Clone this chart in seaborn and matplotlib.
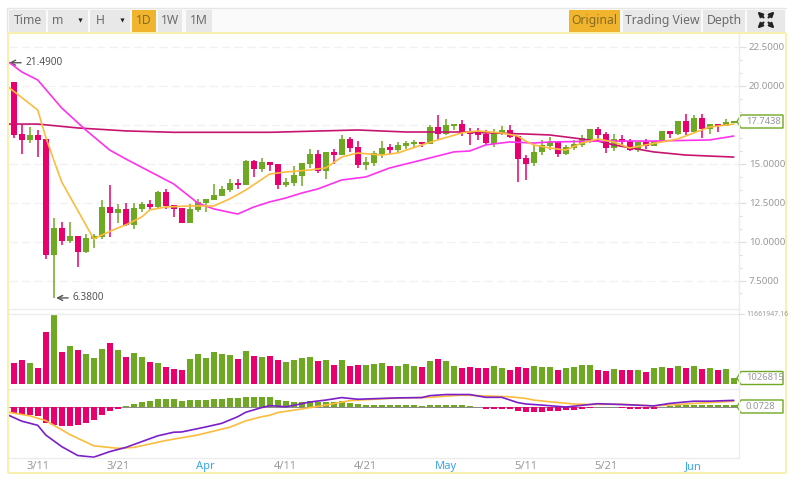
import matplotlib
matplotlib.use("Agg")
import matplotlib.pyplot as plt
from matplotlib.patches import Rectangle, Polygon
import pandas as pd
import seaborn as sns

W, H = 794, 478

# daily candles, day 0 = 3/7
opens = [21.34, 20.25, 16.91, 16.53, 16.85, 16.59, 9.14, 10.87, 10.04, 10.36,
         9.33, 10.17, 10.30, 12.22, 11.84, 12.10, 11.07, 12.10, 12.42, 12.22,
         13.19, 12.35, 12.16, 11.20, 12.03, 12.48, 12.67, 12.93, 13.31, 13.76,
         13.64, 15.18, 14.66, 15.11, 14.98, 13.64, 13.76, 14.21, 14.98, 15.63,
         14.53, 15.76, 15.56, 16.59, 16.08, 14.92, 15.05, 15.63, 16.08, 15.88,
         16.14, 16.27, 16.40, 16.27, 17.36, 16.91, 17.43, 17.55, 17.11, 17.04,
         16.91, 16.27, 16.91, 17.17, 16.78, 15.37, 15.05, 15.76, 16.14, 16.40,
         15.63, 16.01, 16.21, 16.59, 17.23, 16.91, 16.01, 16.59, 16.46, 15.88,
         16.40, 16.14, 16.40, 17.11, 16.91, 17.75, 17.04, 17.94, 17.23, 17.55,
         17.43, 17.62]
highs = [21.49, 20.25, 17.49, 17.36, 17.17, 16.59, 11.52, 11.26, 11.26, 10.36,
         10.49, 10.49, 12.67, 13.64, 12.42, 12.48, 12.48, 12.55, 12.67, 13.25,
         13.38, 12.35, 12.16, 12.42, 12.74, 12.74, 13.70, 13.57, 14.02, 14.02,
         15.24, 15.24, 15.37, 15.11, 14.98, 14.09, 14.86, 15.05, 15.95, 15.88,
         15.76, 15.95, 16.85, 16.72, 16.46, 15.43, 15.82, 16.46, 16.27, 16.40,
         16.46, 16.53, 16.40, 17.49, 18.13, 17.88, 17.55, 17.81, 17.30, 17.30,
         17.17, 17.23, 17.43, 17.49, 16.78, 15.56, 16.21, 16.53, 16.72, 16.40,
         16.21, 16.53, 16.85, 17.23, 17.36, 17.04, 16.91, 16.85, 16.59, 16.40,
         16.59, 16.46, 17.11, 17.11, 17.75, 18.20, 18.13, 18.20, 17.55, 17.55,
         17.88, 17.75]
lows = [20.25, 16.66, 15.63, 16.33, 15.43, 8.88, 6.38, 9.78, 9.91, 8.37,
        9.27, 9.59, 10.17, 10.30, 11.20, 11.00, 10.81, 11.90, 12.03, 12.16,
        12.10, 11.58, 11.20, 11.20, 11.90, 11.90, 12.67, 12.93, 13.19, 13.38,
        13.64, 14.15, 14.47, 14.53, 13.38, 13.51, 13.57, 13.57, 14.73, 14.41,
        14.02, 14.98, 15.56, 15.76, 14.73, 14.60, 14.86, 15.37, 15.63, 15.69,
        15.95, 16.01, 16.08, 16.27, 16.53, 16.85, 17.17, 16.78, 16.21, 16.53,
        16.21, 16.08, 16.85, 16.66, 13.83, 13.96, 14.86, 15.56, 15.88, 15.43,
        15.56, 15.88, 16.08, 16.33, 16.46, 15.69, 15.82, 16.21, 15.82, 15.76,
        15.95, 16.14, 16.40, 16.66, 16.85, 16.85, 17.04, 16.66, 16.91, 17.04,
        17.43, 17.62]
closes = [20.25, 16.85, 16.53, 16.85, 16.53, 9.14, 10.87, 10.04, 10.36, 9.33,
          10.23, 10.36, 12.22, 11.84, 12.10, 11.07, 12.16, 12.42, 12.22, 13.19,
          12.29, 12.10, 11.20, 12.10, 12.55, 12.74, 12.99, 13.38, 13.76, 13.64,
          15.18, 14.66, 15.11, 14.92, 13.64, 13.83, 14.28, 15.05, 15.63, 14.53,
          15.76, 15.56, 16.59, 16.01, 14.92, 15.11, 15.69, 16.01, 15.88, 16.21,
          16.33, 16.40, 16.27, 17.36, 16.91, 17.49, 17.55, 16.98, 16.91, 16.85,
          16.33, 16.98, 17.17, 16.72, 15.31, 14.98, 15.76, 16.21, 16.40, 15.63,
          16.08, 16.27, 16.66, 17.23, 16.85, 16.01, 16.59, 16.40, 15.88, 16.40,
          16.14, 16.46, 17.11, 16.91, 17.75, 17.04, 17.94, 17.23, 17.55, 17.43,
          17.68, 17.7438]

# moving averages, read at the days where the line bends
ma1_days = [0, 4, 5, 6, 7, 11, 12, 14, 15, 17, 18, 20, 23, 26, 28, 30, 33, 35, 38, 40,
            42, 44, 47, 49, 52, 54, 57, 59, 62, 64, 65, 66, 68, 70, 72, 74, 76, 78,
            80, 82, 84, 86, 88, 91]
ma1 = [20.06, 18.45, 16.72, 15.24, 13.83, 10.17, 10.42, 10.87, 11.07, 11.58, 12.03,
       12.22, 12.29, 12.29, 12.74, 13.31, 14.34, 14.47, 14.60, 14.73, 15.43, 15.69,
       15.56, 15.69, 16.21, 16.53, 16.98, 17.11, 16.98, 16.78, 16.46, 16.21, 16.01,
       15.88, 16.33, 16.59, 16.40, 16.01, 16.21, 16.40, 16.59, 16.98, 17.36, 17.55]
ma2_days = [0, 2, 4, 7, 10, 13, 15, 21, 24, 26, 29, 31, 33, 35, 37, 39, 42, 45, 48, 52,
            54, 56, 58, 60, 63, 66, 68, 75, 81, 88, 91]
ma2 = [21.67, 20.90, 20.38, 18.58, 17.17, 15.88, 15.31, 13.70, 12.48, 12.10, 11.77,
       12.22, 12.55, 12.80, 13.12, 13.38, 13.96, 14.15, 14.73, 15.24, 15.50, 15.76,
       15.82, 16.21, 16.40, 16.33, 16.40, 16.46, 16.46, 16.53, 16.78]
ma3_days = [0, 4, 9, 15, 21, 33, 44, 50, 57, 65, 68, 74, 76, 81, 85, 91]
ma3 = [17.55, 17.55, 17.30, 17.11, 17.02, 17.02, 17.17, 17.04, 17.04, 16.91, 16.85,
       16.46, 16.21, 15.76, 15.56, 15.43]

# volume in millions
volume = [2.37, 3.55, 4.06, 3.55, 2.70, 8.79, 11.66, 5.41, 6.42, 5.75,
          5.07, 4.39, 5.92, 6.93, 5.75, 4.56, 5.24, 4.56, 3.72, 3.55,
          2.87, 2.54, 2.37, 4.23, 5.07, 4.39, 5.41, 5.07, 4.90, 4.23,
          5.58, 4.73, 4.56, 4.73, 4.06, 3.72, 4.06, 4.39, 4.56, 3.89,
          4.06, 3.21, 4.06, 3.04, 3.21, 3.21, 3.38, 3.55, 3.04, 3.04,
          3.38, 3.04, 2.87, 3.89, 4.23, 3.89, 3.04, 2.70, 2.87, 2.70,
          2.70, 3.04, 2.70, 2.37, 2.87, 2.70, 3.04, 2.87, 2.87, 2.37,
          2.70, 2.87, 3.21, 3.21, 2.37, 2.20, 2.54, 2.37, 2.37, 2.37,
          2.03, 2.70, 2.87, 2.70, 3.04, 2.70, 3.04, 2.54, 2.70, 2.37,
          2.54, 1.03]

macd_hist = [-0.07, -0.22, -0.27, -0.29, -0.31, -0.58, -0.65, -0.67, -0.67, -0.64,
             -0.57, -0.46, -0.28, -0.15, -0.06, 0.05, 0.12, 0.19, 0.23, 0.30,
             0.30, 0.30, 0.23, 0.26, 0.26, 0.26, 0.30, 0.30, 0.33, 0.33,
             0.37, 0.37, 0.37, 0.37, 0.26, 0.23, 0.19, 0.19, 0.23, 0.19,
             0.19, 0.19, 0.23, 0.15, 0.12, 0.08, 0.08, 0.08, 0.08, 0.08,
             0.08, 0.08, 0.05, 0.08, 0.08, 0.08, 0.08, 0.08, 0.05, 0.01,
             -0.05, -0.05, -0.05, -0.05, -0.13, -0.16, -0.16, -0.16, -0.13, -0.13,
             -0.10, -0.10, -0.06, -0.02, 0.01, 0.01, 0.01, -0.02, -0.05, -0.05,
             -0.05, -0.05, 0.01, 0.05, 0.08, 0.08, 0.08, 0.08, 0.08, 0.08,
             0.08, 0.0728]
dif_days = [0, 2, 4, 5, 7, 9, 11, 13, 15, 19, 21, 22, 25, 27, 29, 30, 32, 33, 35, 36, 38,
            40, 42, 44, 46, 49, 52, 53, 55, 58, 60, 62, 64, 65, 67, 70, 72, 74, 77, 81,
            83, 86, 88, 91]
dif = [-0.24, -0.50, -0.65, -1.00, -1.42, -1.74, -1.80, -1.60, -1.45, -1.03, -0.90,
       -0.89, -0.71, -0.58, -0.34, -0.18, -0.01, 0.06, 0.02, 0.07, 0.19, 0.26, 0.35,
       0.29, 0.31, 0.34, 0.35, 0.42, 0.46, 0.46, 0.36, 0.36, 0.17, 0.12, 0.08, 0.01,
       0.07, 0.13, 0.10, 0.05, 0.14, 0.22, 0.22, 0.25]
dea_days = [0, 3, 5, 8, 11, 14, 16, 20, 24, 28, 30, 32, 33, 34, 37, 40, 43, 48, 53, 57,
            59, 63, 65, 66, 68, 71, 73, 77, 81, 84, 86, 91]
dea = [-0.16, -0.31, -0.48, -0.98, -1.39, -1.48, -1.45, -1.20, -1.00, -0.72, -0.49,
       -0.34, -0.29, -0.19, -0.06, 0.08, 0.24, 0.32, 0.36, 0.44, 0.42, 0.38, 0.32,
       0.26, 0.20, 0.12, 0.10, 0.11, 0.05, 0.10, 0.14, 0.22]

price_ticks = [7.5, 10, 12.5, 15, 17.5, 20, 22.5]
date_days = [4, 14, 25, 35, 45, 55, 65, 75, 86]
date_labels = ["3/11", "3/21", "Apr", "4/11", "4/21", "May", "5/11", "5/21", "Jun"]
left_buttons = ["Time", "m", "H", "1D", "1W", "1M"]
right_buttons = ["Original", "Trading View", "Depth"]

GREEN = "#6fa823"
RED = "#e8006f"
GOLD = "#f0b52c"
GRID = "#f1f1f1"

sns.set_theme(style="white")
plt.rcParams["font.family"] = ["Noto Sans", "DejaVu Sans"]

days = list(range(len(closes)))
colors = [GREEN if c >= o else RED for o, c in zip(opens, closes)]
df = pd.DataFrame({"day": days, "volume": volume, "hist": macd_hist, "color": colors})
hist_colors = [GREEN if v >= 0 else RED for v in macd_hist]
df["hist_color"] = hist_colors

fig = plt.figure(figsize=(W / 100, H / 100), dpi=100, facecolor="white")


def pane(top, bottom):
    return fig.add_axes([9 / W, 1 - bottom / H, 730 / W, (bottom - top) / H])


ax = pane(34, 309)
ax_vol = pane(315, 384)
ax_macd = pane(389, 458)

# price pane
ax.grid(axis="y", color=GRID, lw=1, ls=(0, (6, 3)))
ax.set_axisbelow(True)
ax.vlines(days, lows, highs, colors=colors, lw=1.1, zorder=2)
ax.bar(days, [abs(c - o) for o, c in zip(opens, closes)],
       bottom=[min(o, c) for o, c in zip(opens, closes)],
       width=0.75, color=colors, linewidth=0, zorder=3)
sns.lineplot(x=ma3_days, y=ma3, ax=ax, color="#c7146f", lw=1.2, zorder=4)
sns.lineplot(x=ma2_days, y=ma2, ax=ax, color="#ff33ee", lw=1.2, zorder=4)
sns.lineplot(x=ma1_days, y=ma1, ax=ax, color="#fcbc3e", lw=1.2, zorder=4)
ax.set_ylim(5.67, 23.335)
ax.yaxis.tick_right()
# the 17.5 label sits under the last-price tag
ax.set_yticks(price_ticks, labels=["" if p == 17.5 else "%.4f" % p for p in price_ticks])
ax.set_yticks([t + s * 2.5 / 3 for t in price_ticks[:-1] for s in (1, 2)] + [5 + 2.5 * 2 / 3], minor=True)
ax.tick_params(axis="y", which="major", length=5, width=0.8, color="#dddddd",
               labelcolor="#999999", labelsize=7, pad=2, right=True)
ax.tick_params(axis="y", which="minor", length=2, width=0.8, color="#dddddd", right=True)

arrow = dict(arrowstyle="->", color="#555555", lw=1, shrinkA=1, shrinkB=0, mutation_scale=9)
ax.annotate("%.4f" % max(highs), xy=(0.42, max(highs)), xytext=(12, 0), textcoords="offset points",
            va="center", fontsize=7.2, color="#555555", arrowprops=arrow)
ax.annotate("%.4f" % min(lows), xy=(6.3, min(lows)), xytext=(12, 0), textcoords="offset points",
            va="center", fontsize=7.2, color="#555555", arrowprops=arrow)

# volume pane
sns.barplot(data=df, x="day", y="volume", hue="color", palette={GREEN: GREEN, RED: RED},
            native_scale=True, dodge=False, width=0.75, saturation=1, linewidth=0,
            legend=False, ax=ax_vol)
ax_vol.set_ylim(0, 11.66)
ax_vol.set_yticks([])

# macd pane
ax_macd.axhline(0, color="#888888", lw=0.7, zorder=0)
sns.barplot(data=df, x="day", y="hist", hue="hist_color", palette={GREEN: GREEN, RED: RED},
            native_scale=True, dodge=False, width=0.75, saturation=1, linewidth=0,
            legend=False, ax=ax_macd)
sns.lineplot(x=dea_days, y=dea, ax=ax_macd, color="#fcbc3e", lw=1.2, zorder=4)
sns.lineplot(x=dif_days, y=dif, ax=ax_macd, color="#7a1fc9", lw=1.2, zorder=5)
ax_macd.set_ylim(-1.83, 0.66)
ax_macd.set_yticks([])
ax_macd.set_xticks(date_days, labels=date_labels)
ax_macd.tick_params(axis="x", length=0, pad=2.5, labelsize=8, labelcolor="#999999")
for label in ax_macd.get_xticklabels():
    if not label.get_text()[0].isdigit():
        label.set_color("#3ba6e8")

for a in (ax, ax_vol, ax_macd):
    a.set_xlim(0.41, 91.66)
    a.set_xlabel("")
    a.set_ylabel("")
    a.patch.set_alpha(0)
    for s in a.spines.values():
        s.set_visible(False)
ax.set_xticks([])
ax_vol.set_xticks([])

# toolbar, frame and value tags in pixel coordinates
ov = fig.add_axes([0, 0, 1, 1], zorder=10)
ov.set_xlim(0, W)
ov.set_ylim(H, 0)
ov.axis("off")
ov.patch.set_alpha(0)

ov.add_patch(Rectangle((7, 8), 779, 25, fc="#fafafa", ec="none", zorder=0))
ov.plot([7, 786], [8, 8], color="#e6e6e6", lw=1)
ov.plot([7, 7], [8, 33], color="#e6e6e6", lw=1)
for x0, x1, y0, y1 in [(8, 786, 33, 33), (8, 8, 33, 473), (8, 786, 473, 473), (786, 786, 33, 473)]:
    ov.plot([x0, x1], [y0, y1], color="#f8efa6", lw=1.3, solid_capstyle="butt")
for y in (309, 314, 389, 458):
    ov.plot([9, 739], [y, y], color="#ececec", lw=1)
ov.plot([739, 739], [34, 458], color="#ececec", lw=1)

for text, x0, x1 in zip(left_buttons, (9, 48, 90, 132, 158, 186), (46, 88, 130, 156, 182, 212)):
    active = text == "1D"
    ov.add_patch(Rectangle((x0, 10), x1 - x0, 22, fc=GOLD if active else "#e8e8e8", ec="none"))
    tx = (x0 + x1) / 2 if text not in ("m", "H") else x0 + 10
    ov.text(tx, 20.5, text, ha="center", va="center", fontsize=8.8, color="#6b6b6b" if not active else "#856a25")
for x in (80, 122):
    ov.plot([x], [20], marker="v", ms=3, color="#222222", mew=0)
for text, x0, x1 in zip(right_buttons, (569, 623, 703), (620, 701, 745)):
    active = text == "Original"
    ov.add_patch(Rectangle((x0, 10), x1 - x0, 22, fc=GOLD if active else "#e8e8e8", ec="none"))
    ov.text((x0 + x1) / 2, 20.5, text, ha="center", va="center", fontsize=8.8,
            color="#6b6b6b" if not active else "#856a25")
ov.add_patch(Rectangle((747, 10), 38, 22, fc="#e8e8e8", ec="none"))
for sx, sy in [(-1, -1), (1, -1), (-1, 1), (1, 1)]:
    ov.annotate("", xy=(766 + sx * 8.5, 20 + sy * 8.5), xytext=(766 + sx * 2.5, 20 + sy * 2.5),
                arrowprops=dict(arrowstyle="-|>", color="#222222", lw=1.5, shrinkA=0, shrinkB=0,
                                mutation_scale=7))

ov.text(746, 314, "11661947.16", va="center", fontsize=5, color="#999999")
ov.plot([739, 744], [314, 314], color="#dddddd", lw=0.8)

for value, yc in [("%.4f" % closes[-1], 121.5), (str(1026815), 378), ("%.4f" % macd_hist[-1], 406.5)]:
    ov.add_patch(Polygon([(737, yc), (741, yc - 6.5), (783, yc - 6.5), (783, yc + 6.5), (741, yc + 6.5)],
                         closed=True, fc="white", ec=GREEN, lw=1))
    ov.text(746, yc, value, va="center", fontsize=6.8, color="#999999")

fig.savefig("out.png", dpi=100)
